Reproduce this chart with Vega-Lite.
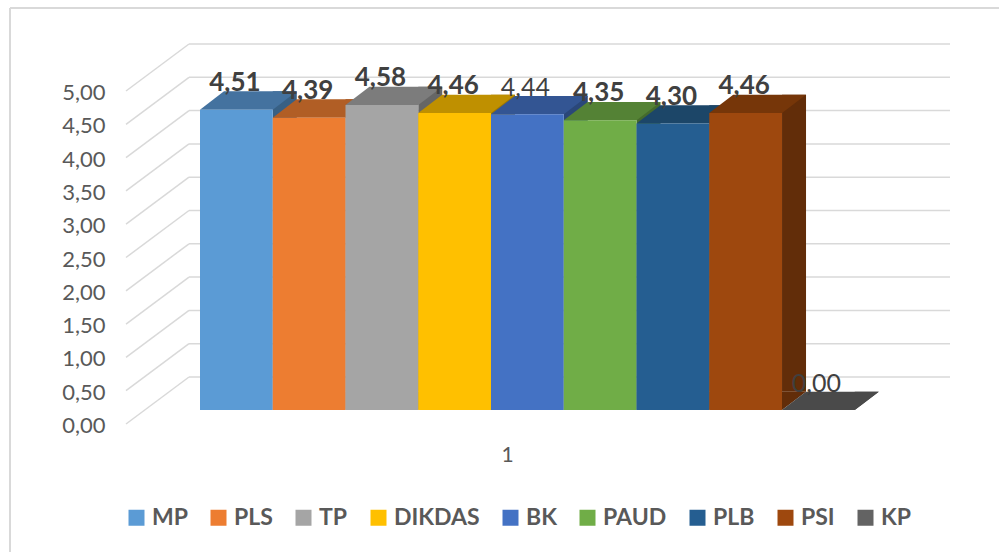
{
"$schema":"https://vega.github.io/schema/vega-lite/v6.json",
"width":999,"height":552,"padding":0,"autosize":{"type":"none"},"background":"white",
"view":{"stroke":null},
"config":{"font":"Lato"},
"data":{"values":[
{"series":"MP","value":4.51,"weight":"bold"},
{"series":"PLS","value":4.39,"weight":"bold"},
{"series":"TP","value":4.58,"weight":"bold"},
{"series":"DIKDAS","value":4.46,"weight":"bold"},
{"series":"BK","value":4.44,"weight":"normal"},
{"series":"PAUD","value":4.35,"weight":"bold"},
{"series":"PLB","value":4.30,"weight":"bold"},
{"series":"PSI","value":4.46,"weight":"bold"},
{"series":"KP","value":0.00,"weight":"normal"}
]},
"encoding":{
"x":{"field":"series","type":"nominal","sort":null,"scale":{"type":"band","domain":["MP","PLS","TP","DIKDAS","BK","PAUD","PLB","PSI","KP"],"range":[200,854.75],"paddingInner":0,"paddingOuter":0},
"axis":{"title":"1","labels":false,"ticks":false,"domain":false,"grid":false,"titleFont":"Lato","titleFontSize":21,"titleFontWeight":"normal","titleColor":"#595959","titleX":507,"titleY":-97,"titleAlign":"center","titleBaseline":"middle"}},
"y":{"field":"value","type":"quantitative","scale":{"domain":[0,5],"range":[410,77],"nice":false,"zero":false},
"axis":{"title":null,"values":[0,0.5,1,1.5,2,2.5,3,3.5,4,4.5,5],"labelExpr":"replace(format(datum.value,'.2f'),'.',',')","labelFont":"Lato","labelFontSize":22,"labelColor":"#595959","labelPadding":0,"labelOffset":15.5,"offset":-105,"ticks":false,"domain":false,"grid":false,"labelFlush":false,"labelOverlap":false}}
},
"resolve":{"scale":{"color":"independent"}},
"layer":[
{"mark":{"type":"rule","stroke":"#d9d9d9","strokeWidth":2},
 "data":{"values":[{"edge":"frame"}]},
 "encoding":{"x":{"value":10},"y":{"value":8},"y2":{"value":552}}},
{"mark":{"type":"rule","stroke":"#d9d9d9","strokeWidth":2},
 "data":{"values":[{"edge":"frame"}]},
 "encoding":{"y":{"value":8},"x":{"value":10},"x2":{"value":999}}},
{"data":{"values":[{"tick":0},{"tick":0.5},{"tick":1},{"tick":1.5},{"tick":2},{"tick":2.5},{"tick":3},{"tick":3.5},{"tick":4},{"tick":4.5},{"tick":5}]},
 "mark":{"type":"rule","stroke":"#d9d9d9","strokeWidth":1.5,"yOffset":-33},
 "encoding":{"x":{"value":189},"x2":{"value":950},"y":{"field":"tick","type":"quantitative","title":null}}},
{"data":{"values":[{"tick":0},{"tick":0.5},{"tick":1},{"tick":1.5},{"tick":2},{"tick":2.5},{"tick":3},{"tick":3.5},{"tick":4},{"tick":4.5},{"tick":5}]},
 "mark":{"type":"point","shape":"M0,0L-63,47","size":4,"filled":false,"opacity":1,"stroke":"#d9d9d9","strokeWidth":1.5,"yOffset":-33},
 "encoding":{"x":{"value":189},"y":{"field":"tick","type":"quantitative","title":null}}},
{"mark":{"type":"bar","width":24,"xOffset":48.4,"yOffset":-18.3,"y2Offset":-18.3},
 "encoding":{"y2":{"datum":0},"color":{"field":"series","type":"nominal","legend":null,"sort":null,"scale":{"domain":["MP","PLS","TP","DIKDAS","BK","PAUD","PLB","PSI","KP"],"range":["#386084","#934D1E","#666666","#9E7700","#2A4779","#456B2C","#173A5A","#622D09","#3D3D3D"]}}}},
{"mark":{"type":"point","shape":"M36.4,0L36.4,-18.3L60.4,-18.3Z","size":4,"filled":true,"opacity":1,"strokeWidth":0},
 "encoding":{"y":{"datum":0,"type":"quantitative"},"color":{"field":"series","type":"nominal","legend":null,"sort":null,"scale":{"domain":["MP","PLS","TP","DIKDAS","BK","PAUD","PLB","PSI","KP"],"range":["#386084","#934D1E","#666666","#9E7700","#2A4779","#456B2C","#173A5A","#622D09","#3D3D3D"]}}}},
{"mark":{"type":"point","shape":"M-36.4,0L36.4,0L60.4,-18.3L-12.4,-18.3Z","size":4,"filled":true,"opacity":1,"strokeWidth":0},
 "encoding":{"color":{"field":"series","type":"nominal","legend":null,"sort":null,"scale":{"domain":["MP","PLS","TP","DIKDAS","BK","PAUD","PLB","PSI","KP"],"range":["#44729F","#B15E25","#7C7C7C","#BF9000","#335593","#548235","#1C4668","#763609","#4A4A4A"]}}}},
{"mark":{"type":"bar","opacity":1},
 "encoding":{"y2":{"datum":0},"color":{"field":"series","type":"nominal","sort":null,"scale":{"domain":["MP","PLS","TP","DIKDAS","BK","PAUD","PLB","PSI","KP"],"range":["#5B9BD5","#ED7D31","#A5A5A5","#FFC000","#4472C4","#70AD47","#255E91","#9E480E","#636363"]},
 "legend":{"title":null,"orient":"none","legendX":125,"legendY":506,"direction":"horizontal","columns":9,"symbolType":"square","symbolSize":256,"symbolStrokeWidth":0,"symbolOpacity":1,"labelFont":"Lato","labelFontSize":23,"labelFontWeight":"bold","labelColor":"#595959","labelOffset":4,"columnPadding":19,"labelLimit":200,"padding":0}}}},
{"transform":[{"filter":"datum.weight==='bold'"},{"calculate":"replace(format(datum.value,'.2f'),'.',',')","as":"label"}],
 "mark":{"type":"text","font":"Lato","fontSize":26,"fontWeight":"bold","color":"#404040","dx":-1.5,"dy":-19,"baseline":"alphabetic","align":"center"},
 "encoding":{"text":{"field":"label"}}},
{"transform":[{"filter":"datum.weight==='normal'"},{"calculate":"replace(format(datum.value,'.2f'),'.',',')","as":"label"}],
 "mark":{"type":"text","font":"Lato","fontSize":25,"color":"#404040","dx":-2,"dy":-18,"baseline":"alphabetic","align":"center"},
 "encoding":{"text":{"field":"label"}}}
]
}
